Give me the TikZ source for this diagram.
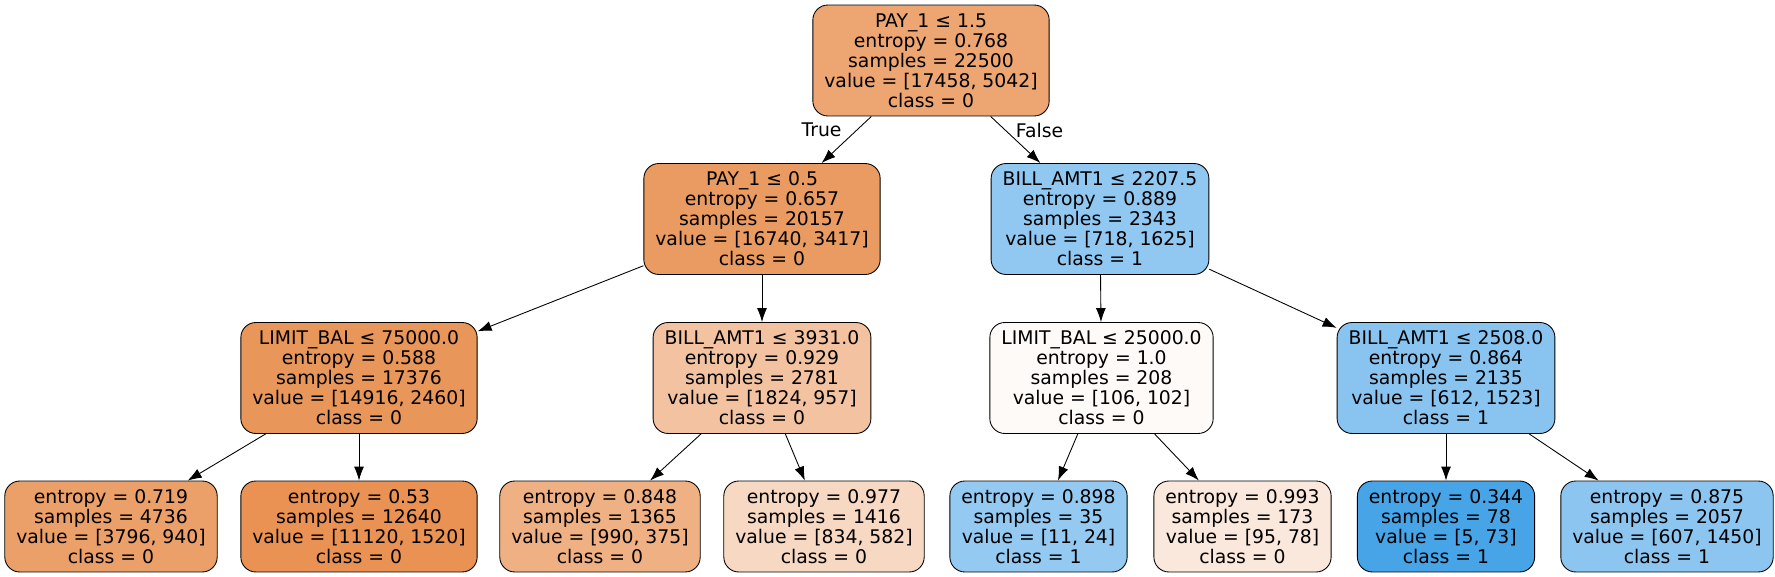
\documentclass[tikz,border=0pt]{standalone}
\usepackage{fontspec}
\setmainfont{DejaVu Sans}
\usepackage{tikz}
\usetikzlibrary{arrows.meta}
\definecolor{cRoot}{RGB}{237,165,114}
\definecolor{cPayA}{RGB}{234,155,97}
\definecolor{cBillA}{RGB}{145,200,241}
\definecolor{cLimA}{RGB}{233,150,90}
\definecolor{cBillB}{RGB}{243,195,161}
\definecolor{cLimB}{RGB}{254,250,247}
\definecolor{cBillC}{RGB}{137,196,240}
\definecolor{cLeafA}{RGB}{235,160,106}
\definecolor{cLeafB}{RGB}{233,146,84}
\definecolor{cLeafC}{RGB}{239,177,132}
\definecolor{cLeafD}{RGB}{247,217,195}
\definecolor{cLeafE}{RGB}{148,202,241}
\definecolor{cLeafF}{RGB}{250,232,220}
\definecolor{cLeafG}{RGB}{71,164,231}
\definecolor{cLeafH}{RGB}{140,198,240}

\begin{document}
\begin{tikzpicture}[x=0.02cm, y=-0.02cm,
  treebox/.style={draw, rounded corners=0.3cm, align=center, inner xsep=0.23cm, inner ysep=0pt, line width=0.5pt, font=\fontsize{10.7}{11.38}\selectfont},
  splitbox/.style={treebox, minimum height=2.22cm},
  leafbox/.style={treebox, minimum height=1.82cm},
  edgelabel/.style={font=\fontsize{10.7}{11.38}\selectfont},
  edge/.style={line width=0.5pt, -{Latex[length=0.28cm,width=0.2cm]}}]
\useasboundingbox (0,0) rectangle (1775,577);
\node[splitbox, fill=cRoot] (pay15) at (931,60.5) {PAY\_1 ≤ 1.5\\entropy = 0.768\\samples = 22500\\value = [17458, 5042]\\class = 0};
\node[splitbox, fill=cPayA] (pay05) at (762,219) {PAY\_1 ≤ 0.5\\entropy = 0.657\\samples = 20157\\value = [16740, 3417]\\class = 0};
\node[splitbox, fill=cBillA] (bill2207) at (1100,219) {BILL\_AMT1 ≤ 2207.5\\entropy = 0.889\\samples = 2343\\value = [718, 1625]\\class = 1};
\node[splitbox, fill=cLimA] (lim75k) at (359,378) {LIMIT\_BAL ≤ 75000.0\\entropy = 0.588\\samples = 17376\\value = [14916, 2460]\\class = 0};
\node[splitbox, fill=cBillB] (bill3931) at (762,378) {BILL\_AMT1 ≤ 3931.0\\entropy = 0.929\\samples = 2781\\value = [1824, 957]\\class = 0};
\node[splitbox, fill=cLimB] (lim25k) at (1101.5,378) {LIMIT\_BAL ≤ 25000.0\\entropy = 1.0\\samples = 208\\value = [106, 102]\\class = 0};
\node[splitbox, fill=cBillC] (bill2508) at (1446,378) {BILL\_AMT1 ≤ 2508.0\\entropy = 0.864\\samples = 2135\\value = [612, 1523]\\class = 1};
\node[leafbox, fill=cLeafA] (e719) at (111,526.5) {entropy = 0.719\\samples = 4736\\value = [3796, 940]\\class = 0};
\node[leafbox, fill=cLeafB] (e53) at (359,526.5) {entropy = 0.53\\samples = 12640\\value = [11120, 1520]\\class = 0};
\node[leafbox, fill=cLeafC] (e848) at (600,526.5) {entropy = 0.848\\samples = 1365\\value = [990, 375]\\class = 0};
\node[leafbox, fill=cLeafD] (e977) at (824,526.5) {entropy = 0.977\\samples = 1416\\value = [834, 582]\\class = 0};
\node[leafbox, fill=cLeafE] (e898) at (1038.5,526.5) {entropy = 0.898\\samples = 35\\value = [11, 24]\\class = 1};
\node[leafbox, fill=cLeafF] (e993) at (1242.5,526.5) {entropy = 0.993\\samples = 173\\value = [95, 78]\\class = 0};
\node[leafbox, fill=cLeafG] (e344) at (1446,526.5) {entropy = 0.344\\samples = 78\\value = [5, 73]\\class = 1};
\node[leafbox, fill=cLeafH] (e875) at (1667,526.5) {entropy = 0.875\\samples = 2057\\value = [607, 1450]\\class = 1};
\draw[edge] (pay15) -- (pay05);
\draw[edge] (pay15) -- (bill2207);
\node[edgelabel] (lbltrue) at (821.5,130) {True};
\node[edgelabel] (lblfalse) at (1039.5,130) {False};
\draw[edge] (pay05) -- (lim75k);
\draw[edge] (pay05) -- (bill3931);
\draw[edge] (bill2207) -- (lim25k);
\draw[edge] (bill2207) -- (bill2508);
\draw[edge] (lim75k) -- (e719);
\draw[edge] (lim75k) -- (e53);
\draw[edge] (bill3931) -- (e848);
\draw[edge] (bill3931) -- (e977);
\draw[edge] (lim25k) -- (e898);
\draw[edge] (lim25k) -- (e993);
\draw[edge] (bill2508) -- (e344);
\draw[edge] (bill2508) -- (e875);
\end{tikzpicture}
\end{document}
